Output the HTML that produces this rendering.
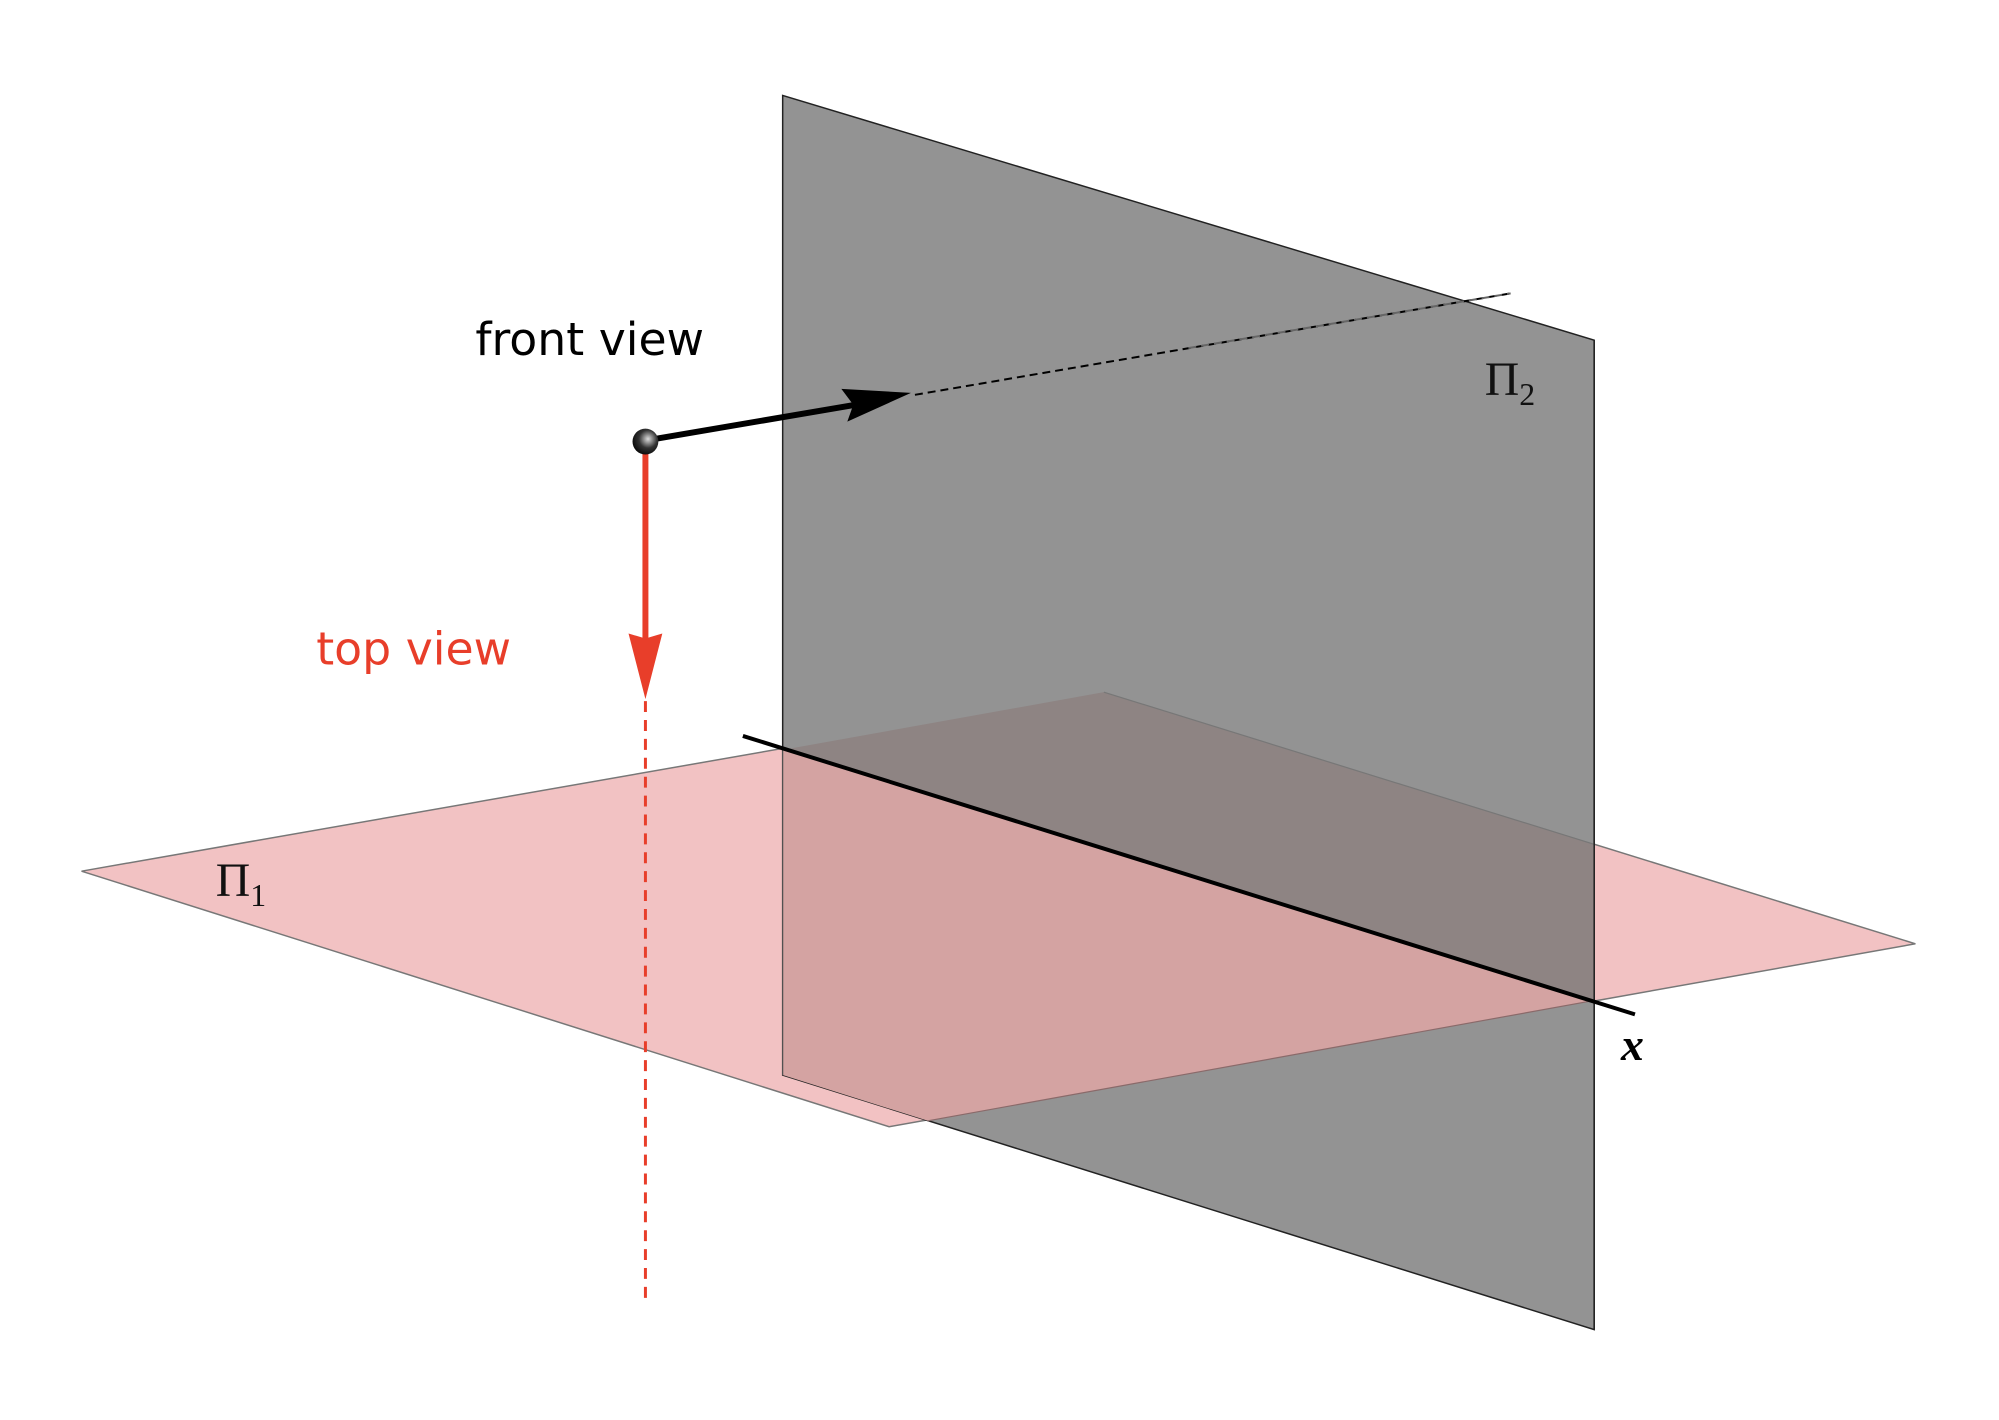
<!DOCTYPE html>
<html><head><meta charset="utf-8"><style>body{margin:0;background:#fff}svg{display:block}</style></head>
<body>
<svg width="1999" height="1420" viewBox="0 0 1999 1420" xmlns="http://www.w3.org/2000/svg">
<g transform="scale(0.9945)">
<polygon points="82,876 1110,696 1926,949 894,1133" fill="#f2c2c3" stroke="#777" stroke-width="1.5"/>
<polygon points="787,96 1603,342 1603,1337 787,1081" fill="#939393" stroke="#222" stroke-width="1.5"/>
<polygon points="787,754 1110,696 1603,849 1603,1006" fill="#8e8483"/>
<polygon points="787,754 1603,1006 933,1127 787,1081" fill="#d4a3a2"/>
<line x1="1110" y1="696" x2="1603" y2="849" stroke="#777" stroke-width="1.2"/>
<line x1="1603" y1="1006" x2="933" y2="1127" stroke="#8a6a6a" stroke-width="1.2"/>
<line x1="787" y1="754" x2="787" y2="1081" stroke="#555" stroke-width="1.2"/>
<line x1="1603" y1="342" x2="1603" y2="1337" stroke="#222" stroke-width="1.5"/>
<line x1="747" y1="740" x2="1644" y2="1020" stroke="#000" stroke-width="4"/>
<text x="1630" y="1066" font-family="Liberation Serif, serif" font-style="italic" font-weight="bold" font-size="46">x</text>
<line x1="920" y1="397" x2="1519" y2="295" stroke="#000" stroke-width="2" stroke-dasharray="8,5"/>
<line x1="1195" y1="350" x2="1519" y2="295" stroke="#666" stroke-width="2" stroke-dasharray="8,5"/>
<line x1="649" y1="443" x2="860" y2="407" stroke="#000" stroke-width="6"/>
<polygon points="916,395 846,391 858,407 852,424" fill="#000"/>
<line x1="649" y1="705" x2="649" y2="1308" stroke="#e83e2a" stroke-width="3" stroke-dasharray="11,8"/>
<line x1="649" y1="450" x2="649" y2="645" stroke="#e83e2a" stroke-width="6"/>
<polygon points="632,637 649,642 666,637 649,703" fill="#e83e2a"/>
<defs><radialGradient id="g" cx="0.6" cy="0.4" r="0.7"><stop offset="0" stop-color="#ddd"/><stop offset="0.5" stop-color="#333"/><stop offset="1" stop-color="#000"/></radialGradient></defs>
<circle cx="649" cy="444" r="13" fill="url(#g)"/>
<text x="478" y="357" font-family="DejaVu Sans, sans-serif" font-size="46" fill="#000">front view</text>
<text x="318" y="668" font-family="DejaVu Sans, sans-serif" font-size="46" fill="#e83e2a">top view</text>
<text x="1493" y="397" font-family="Liberation Serif, serif" font-size="48" fill="#111">Π<tspan font-size="32" dy="10">2</tspan></text>
<text x="217" y="901" font-family="Liberation Serif, serif" font-size="48" fill="#111">Π<tspan font-size="32" dy="10">1</tspan></text>
</g>
</svg>
</body></html>
